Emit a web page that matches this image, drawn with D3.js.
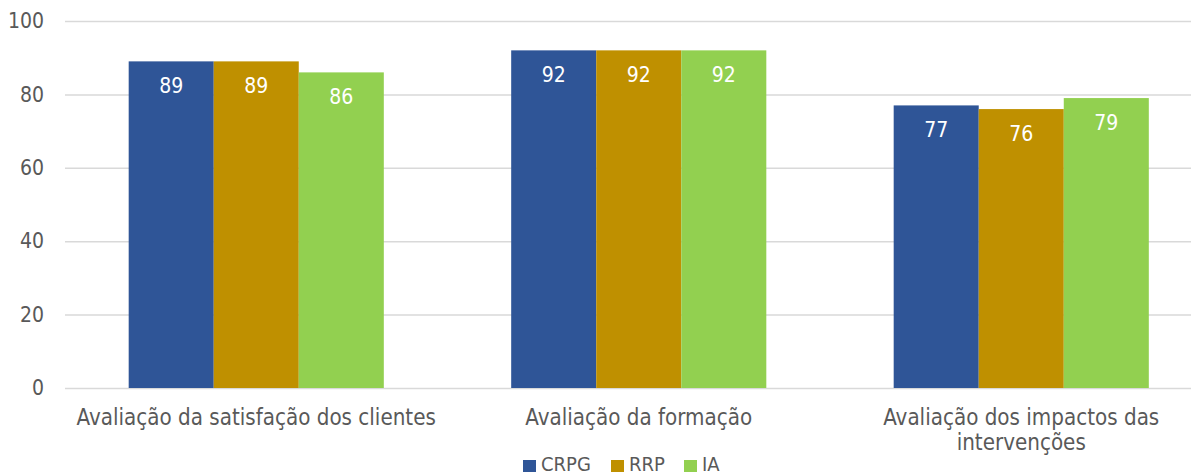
<!DOCTYPE html>
<html><head><meta charset="utf-8">
<script src="https://cdn.jsdelivr.net/npm/d3@7"></script>
<style>body{margin:0;background:#fff}svg{display:block}</style>
</head><body>
<script>
const categories = [["Avaliação da satisfação dos clientes"],["Avaliação da formação"],["Avaliação dos impactos das","intervenções"]];
const seriesNames = ["CRPG","RRP","IA"];
const CRPG = [89,92,77];
const RRP = [89,92,76];
const IA = [86,92,79];
const yTicks = [0,20,40,60,80,100];
const colors = ["#2F5597","#BF9000","#92D050"];
const values = [CRPG,RRP,IA];

(function(){
const W=1191,H=476, font="'DejaVu Sans Condensed', 'DejaVu Sans', sans-serif";
const svg=d3.select("body").append("svg").attr("width",W).attr("height",H);
const pl=65, pr=1212.5, pt=21, pb=388;
const x0=d3.scaleBand().domain(d3.range(3)).range([pl,pr]).paddingInner(0.333).paddingOuter(0.1665);
const x1=d3.scaleBand().domain(d3.range(3)).range([0,x0.bandwidth()]);
const y=d3.scaleLinear().domain([0,100]).range([pb,pt]);

const yAxis=svg.append("g").attr("transform",`translate(${pl},0)`)
  .call(d3.axisLeft(y).tickValues(yTicks).tickSize(-(W-pl)).tickPadding(21));
yAxis.select(".domain").remove();
yAxis.selectAll(".tick line").attr("stroke","#D9D9D9").attr("stroke-width",1.5);
yAxis.selectAll(".tick text").attr("fill","#595959").style("font-family",font).style("font-size","21px");

const g=svg.append("g");
values.forEach((arr,s)=>{
  g.selectAll(null).data(arr).enter().append("rect")
    .attr("x",(d,i)=>x0(i)+x1(s)).attr("y",d=>y(d))
    .attr("width",x1.bandwidth()).attr("height",d=>pb-y(d)).attr("fill",colors[s]);
  g.selectAll(null).data(arr).enter().append("text")
    .attr("x",(d,i)=>x0(i)+x1(s)+x1.bandwidth()/2).attr("y",d=>y(d)+32)
    .attr("text-anchor","middle").attr("fill","#fff").style("font-family",font).style("font-size","21px")
    .text(d=>d);
});

const cat=svg.append("g");
categories.forEach((lines,i)=>{
  const t=cat.append("text").attr("text-anchor","middle").attr("fill","#595959")
    .style("font-family",font).style("font-size","22.2px");
  lines.forEach((l,j)=>t.append("tspan").attr("x",x0(i)+x0.bandwidth()/2).attr("y",425+j*25).text(l));
});

const legX=[523,611,684];
const leg=svg.append("g");
seriesNames.forEach((n,i)=>{
  leg.append("rect").attr("x",legX[i]).attr("y",460).attr("width",13).attr("height",12).attr("fill",colors[i]);
  leg.append("text").attr("x",legX[i]+18).attr("y",471).attr("fill","#595959")
    .style("font-family",font).style("font-size","20px").text(n);
});
})();
</script>
</body></html>
